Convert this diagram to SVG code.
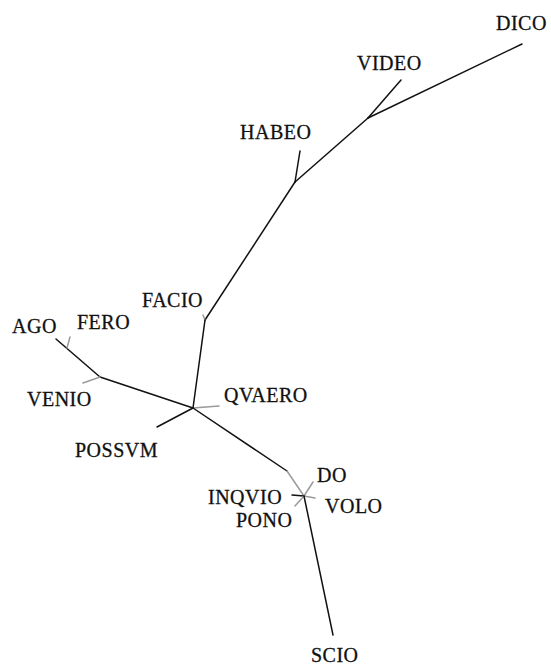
<svg xmlns="http://www.w3.org/2000/svg" width="551" height="665" viewBox="0 0 551 665">
<style>
.e{stroke:#111;stroke-width:1.5;fill:none;stroke-linecap:round}
.g{stroke:#9a9a9a;stroke-width:1.5;fill:none;stroke-linecap:round}
text{font-family:"Liberation Serif","Times New Roman",serif;font-size:20px;letter-spacing:0.5px;fill:#111;stroke:#111;stroke-width:0.3}
</style>
<rect width="551" height="665" fill="#fff"/>
<g id="connectors">
<path class="e" d="M522,44 L368,118"/>
<path class="e" d="M401,80 L368,118"/>
<path class="e" d="M368,118 L295,182"/>
<path class="e" d="M300,151 L295,182"/>
<path class="e" d="M295,182 L205,320"/>
<path class="g" d="M203,315 L205,320"/>
<path class="e" d="M205,320 L193,408"/>
<path class="g" d="M193,408 L219,406"/>
<path class="e" d="M193,408 L100,377"/>
<path class="e" d="M100,377 L56,339"/>
<path class="g" d="M70,337 L67,348"/>
<path class="g" d="M100,377 L83,383"/>
<path class="e" d="M193,408 L157,427"/>
<path class="e" d="M193,408 L287,471"/>
<path class="g" d="M287,471 L304,496"/>
<path class="g" d="M304,496 L313,482"/>
<path class="g" d="M304,496 L315,498"/>
<path class="e" d="M304,496 L292,495"/>
<path class="g" d="M304,496 L295,506"/>
<path class="e" d="M304,496 L333,635"/>
</g>
<g id="DICO"><text x="496" y="30">DICO</text></g>
<g id="VIDEO"><text x="357" y="70">VIDEO</text></g>
<g id="HABEO"><text x="240" y="139">HABEO</text></g>
<g id="FACIO"><text x="142" y="307">FACIO</text></g>
<g id="AGO"><text x="12" y="333">AGO</text></g>
<g id="FERO"><text x="77" y="329">FERO</text></g>
<g id="VENIO"><text x="27" y="406">VENIO</text></g>
<g id="QVAERO"><text x="224" y="402">QVAERO</text></g>
<g id="POSSVM"><text x="75" y="457">POSSVM</text></g>
<g id="DO"><text x="317" y="482">DO</text></g>
<g id="INQVIO"><text x="208" y="504">INQVIO</text></g>
<g id="VOLO"><text x="325" y="513">VOLO</text></g>
<g id="PONO"><text x="236" y="527">PONO</text></g>
<g id="SCIO"><text x="311" y="662">SCIO</text></g>
</svg>
